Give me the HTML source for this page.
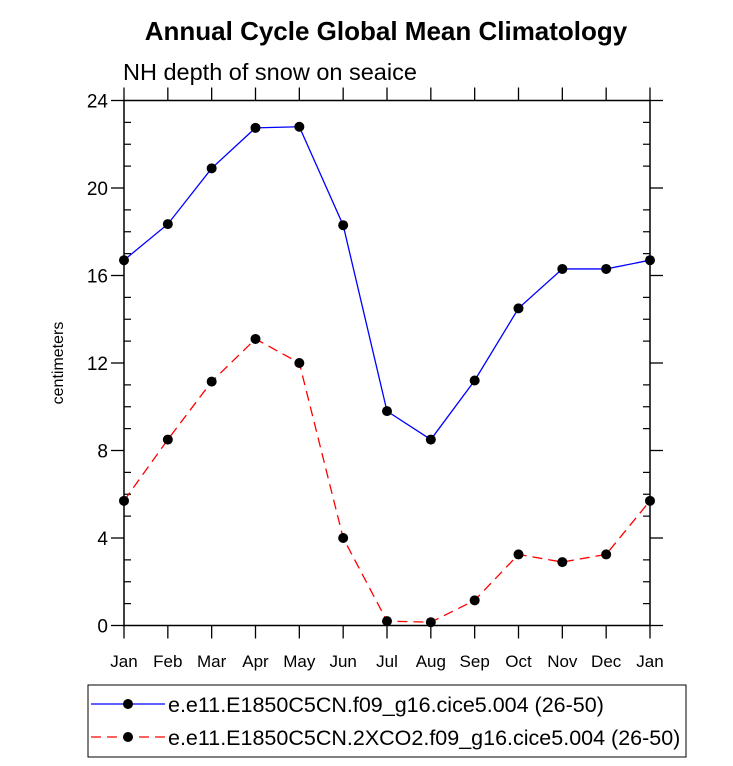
<!DOCTYPE html>
<html><head><meta charset="utf-8"><style>
body{margin:0;background:#fff;}
svg text{font-family:"Liberation Sans",Arial,sans-serif;}
</style></head><body>
<svg id="c" width="733" height="761" xmlns="http://www.w3.org/2000/svg">
<text x="386" y="40" text-anchor="middle" font-size="26" font-weight="bold">Annual Cycle Global Mean Climatology</text>
<text x="123" y="80" font-size="23.5">NH depth of snow on seaice</text>
<text transform="translate(63,363) rotate(-90)" text-anchor="middle" font-size="16">centimeters</text>
<g id="ticks"></g>
<g id="lines"></g>
<rect x="124" y="100.5" width="526" height="525" fill="none" stroke="#000" stroke-width="1.5"/>
<g>
<rect x="88" y="685" width="598" height="72" fill="none" stroke="#000" stroke-width="1"/>
<line x1="91" y1="704" x2="165" y2="704" stroke="#00f" stroke-width="1.3"/>
<circle cx="128" cy="704" r="5" fill="#000"/>
<text x="168" y="712" font-size="21.5">e.e11.E1850C5CN.f09_g16.cice5.004 (26-50)</text>
<line x1="91" y1="737" x2="165" y2="737" stroke="#f00" stroke-width="1.3" stroke-dasharray="10,6"/>
<circle cx="128" cy="737" r="5" fill="#000"/>
<text x="168" y="745" font-size="21.5">e.e11.E1850C5CN.2XCO2.f09_g16.cice5.004 (26-50)</text>
</g>
</svg>
<script>
const months=["Jan","Feb","Mar","Apr","May","Jun","Jul","Aug","Sep","Oct","Nov","Dec","Jan"];
const controlValues=[16.7,18.35,20.9,22.75,22.8,18.3,9.8,8.5,11.2,14.5,16.3,16.3,16.7];
const co2Values=[5.7,8.5,11.15,13.1,12.0,4.0,0.2,0.15,1.15,3.25,2.9,3.25,5.7];
const yTicks=[0,4,8,12,16,20,24];
const NS="http://www.w3.org/2000/svg";
const L=124,R=650,T=100.5,B=625.5,ymax=24;
const xs=i=>L+(R-L)*i/(months.length-1);
const ys=v=>B-(B-T)*v/ymax;
function mk(tag,attrs,parent){const e=document.createElementNS(NS,tag);for(const k in attrs)e.setAttribute(k,attrs[k]);parent.appendChild(e);return e;}
const tg=document.getElementById('ticks');
months.forEach((m,i)=>{
 const x=xs(i);
 let t=mk('line',{x1:x,y1:B,x2:x,y2:B+13,stroke:'#000','stroke-width':1.3},tg);
 
 
 t=mk('line',{x1:x,y1:T,x2:x,y2:T-13,stroke:'#000','stroke-width':1.3},tg);
 
 
 const lb=mk('text',{x:x,y:667,'text-anchor':'middle','font-size':17},tg);
 lb.textContent=m;
 
 
});
for(let v=0;v<=ymax;v++){
 const y=ys(v);
 if(v%4===0){
  let t=mk('line',{x1:L-13,y1:y,x2:L,y2:y,stroke:'#000','stroke-width':1.3},tg);
  
  
  t=mk('line',{x1:R,y1:y,x2:R+13,y2:y,stroke:'#000','stroke-width':1.3},tg);
  
  
 }else{
  let t=mk('line',{x1:L,y1:y,x2:L+7,y2:y,stroke:'#000','stroke-width':1.2},tg);
  
  
  t=mk('line',{x1:R-7,y1:y,x2:R,y2:y,stroke:'#000','stroke-width':1.2},tg);
  
  
 }
}
yTicks.forEach(v=>{
 const lb=mk('text',{x:L-16,y:ys(v)+7,'text-anchor':'end','font-size':19},tg);
 lb.textContent=v;
 
 
});
const lg=document.getElementById('lines');
function series(vals,color,dash,name){
 const pts=vals.map((v,i)=>xs(i)+','+ys(v)).join(' ');
 const pl=mk('polyline',{points:pts,fill:'none',stroke:color,'stroke-width':1.3},lg);
 if(dash)pl.setAttribute('stroke-dasharray',dash);
 
 
 vals.forEach((v,i)=>{
  const c=mk('circle',{cx:xs(i),cy:ys(v),r:5,fill:'#000'},lg);
  
  
 });
}
series(controlValues,'#00f',null,'control');
series(co2Values,'#f00','10,6','co2');
</script>
</body></html>
